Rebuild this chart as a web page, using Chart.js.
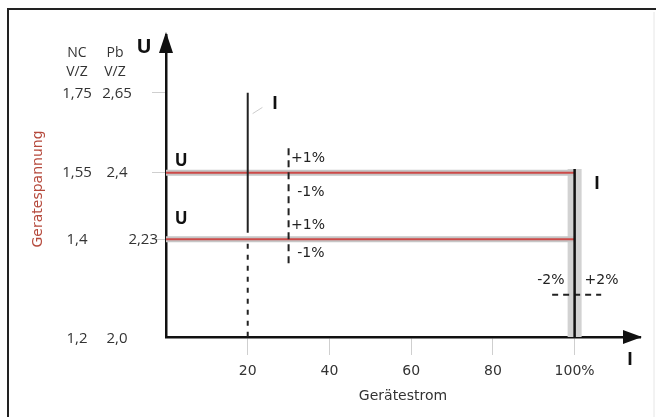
<!DOCTYPE html>
<html>
<head>
<meta charset="utf-8">
<script src="https://cdn.jsdelivr.net/npm/chart.js@4.4.1/dist/chart.umd.min.js"></script>
<style>
  html, body { margin: 0; padding: 0; background: #fff; }
</style>
</head>
<body>
<canvas id="chart" width="656" height="417"></canvas>
<script>
"use strict";

// Gerätestrom in % of rated current
const currentTicks = [20, 40, 60, 80, 100];
// voltage levels per cell (NC and Pb columns)
const ncLevels = [1.2, 1.4, 1.55, 1.75];
const ncLabels = ["1,2", "1,4", "1,55", "1,75"];
const pbLabels = ["2,0", "2,23", "2,4", "2,65"];

// characteristic lines (x = current %, y = NC V/Z)
const upperU = [{ x: 0, y: 1.55 }, { x: 100, y: 1.55 }];
const lowerU = [{ x: 0, y: 1.4 }, { x: 100, y: 1.4 }];
const ratedI = [{ x: 100, y: 1.558 }, { x: 100, y: 1.18 }];
const startSolid = [{ x: 20, y: 1.73 }, { x: 20, y: 1.415 }];
const startDashed = [{ x: 20, y: 1.39 }, { x: 20, y: 1.18 }];
const tolU = [{ x: 30, y: 1.605 }, { x: 30, y: 1.34 }];
const tolI = [{ x: 94.5, y: 1.275 }, { x: 106.5, y: 1.275 }];

const FONT = "'Open Sans', 'Noto Sans', sans-serif";
const WIDE = "'DejaVu Sans', sans-serif";
const INK = "#333";

function line(data, color, width, order, dash) {
  return {
    data: data,
    borderColor: color,
    borderWidth: width,
    borderDash: dash || [],
    pointRadius: 0,
    fill: false,
    order: order,
    borderCapStyle: "butt"
  };
}

const sketch = {
  id: "sketch",
  afterDraw(chart) {
    const ctx = chart.ctx;
    const xs = chart.scales.x;
    const ys = chart.scales.y;
    const area = chart.chartArea;
    const px = v => xs.getPixelForValue(v);
    const py = v => ys.getPixelForValue(v);

    ctx.save();

    // frame
    ctx.strokeStyle = "#222";
    ctx.lineWidth = 2;
    ctx.beginPath();
    ctx.moveTo(8, 417);
    ctx.lineTo(8, 9);
    ctx.lineTo(656, 9);
    ctx.stroke();
    ctx.strokeStyle = "#e6e6e6";
    ctx.lineWidth = 1;
    ctx.beginPath();
    ctx.moveTo(654, 12);
    ctx.lineTo(654, 417);
    ctx.stroke();

    // arrows
    ctx.fillStyle = "#111";
    ctx.beginPath();
    ctx.moveTo(area.left, area.top - 3);
    ctx.lineTo(area.left - 7, area.top + 18);
    ctx.lineTo(area.left + 7, area.top + 18);
    ctx.closePath();
    ctx.fill();
    ctx.beginPath();
    ctx.moveTo(area.right + 2, area.bottom);
    ctx.lineTo(area.right - 17, area.bottom - 7);
    ctx.lineTo(area.right - 17, area.bottom + 7);
    ctx.closePath();
    ctx.fill();

    // column headers
    ctx.fillStyle = INK;
    ctx.textAlign = "center";
    ctx.textBaseline = "middle";
    ctx.font = "14px " + FONT;
    ctx.fillText("NC", 77, 53);
    ctx.fillText("Pb", 115, 53);
    ctx.fillText("V/Z", 77, 72);
    ctx.fillText("V/Z", 115, 72);

    // level labels
    ctx.font = "15px " + FONT;
    ncLevels.forEach((v, i) => {
      let y = py(v);
      if (i === 0) y = area.bottom + 2;
      if (i === ncLevels.length - 1) y += 10;
      ctx.textAlign = "center";
      ctx.fillText(ncLabels[i], 77, y);
      if (i === 1) {
        ctx.textAlign = "right";
        ctx.fillText(pbLabels[i], area.left - 8, y);
      } else {
        ctx.textAlign = "center";
        ctx.fillText(pbLabels[i], 117, y);
      }
    });

    // y title
    ctx.save();
    ctx.translate(38, 189);
    ctx.rotate(-Math.PI / 2);
    ctx.fillStyle = "#b5493c";
    ctx.font = "14px " + WIDE;
    ctx.textAlign = "center";
    ctx.fillText("Geratespannung", 0, 0);
    ctx.restore();

    // bold symbols
    ctx.fillStyle = "#111";
    ctx.textAlign = "center";
    ctx.font = "bold 20px " + FONT;
    ctx.fillText("U", area.left - 22, 47);
    ctx.font = "bold 17px " + FONT;
    ctx.fillText("U", px(3.7), py(1.575));
    ctx.fillText("U", px(3.7), py(1.445));
    ctx.font = "bold 18px " + FONT;
    ctx.fillText("I", px(26.7), py(1.705));
    ctx.fillText("I", px(105.5), py(1.525));
    ctx.fillText("I", area.right - 10, area.bottom + 23);

    // faint leader to upper I
    ctx.strokeStyle = "#ccc";
    ctx.lineWidth = 1;
    ctx.beginPath();
    ctx.moveTo(px(21.2), py(1.683));
    ctx.lineTo(px(23.6), py(1.697));
    ctx.stroke();

    // tolerance labels
    ctx.fillStyle = "#222";
    ctx.font = "14px " + WIDE;
    ctx.textAlign = "left";
    ctx.fillText("+1%", px(30.6), py(1.5815));
    ctx.fillText("-1%", px(32.1), py(1.505));
    ctx.fillText("+1%", px(30.6), py(1.4315));
    ctx.fillText("-1%", px(32.1), py(1.3685));
    ctx.textAlign = "center";
    ctx.fillText("-2%", px(94.2), py(1.3077));
    ctx.fillText("+2%", px(106.6), py(1.3077));

    ctx.restore();
  }
};

new Chart(document.getElementById("chart"), {
  type: "line",
  data: {
    datasets: [
      line(ratedI, "#d2d2d2", 14, 10),
      line(upperU, "#c6c6c6", 6, 9),
      line(lowerU, "#c6c6c6", 6, 9),
      line(upperU, "#cc4a48", 2, 8),
      line(lowerU, "#cc4a48", 2, 8),
      line(ratedI, "#111", 2.5, 1),
      line(startSolid, "#222", 2, 2),
      line(startDashed, "#222", 2, 2, [5, 6]),
      line(tolU, "#222", 2, 2, [7, 5]),
      line(tolI, "#222", 2, 2, [6, 5])
    ]
  },
  options: {
    responsive: false,
    animation: false,
    layout: { padding: { left: 8, top: 35, right: 16, bottom: 0 } },
    plugins: { legend: { display: false }, tooltip: { enabled: false } },
    scales: {
      x: {
        type: "linear",
        min: 0,
        max: 116,
        afterBuildTicks: s => { s.ticks = currentTicks.map(v => ({ value: v })); },
        afterFit: s => { s.height = 80; },
        border: { color: "#111", width: 2.5 },
        grid: { drawOnChartArea: false, tickLength: 18, color: "#cfcfcf", lineWidth: 1 },
        ticks: {
          padding: 8,
          color: INK,
          font: { family: WIDE, size: 14 },
          callback: v => (v === 100 ? "100%" : String(v))
        },
        title: {
          display: true,
          text: "Gerätestrom",
          color: INK,
          font: { family: WIDE, size: 14 },
          padding: { top: 0, bottom: 12 }
        }
      },
      y: {
        type: "linear",
        min: 1.18,
        max: 1.86,
        afterBuildTicks: s => { s.ticks = [1.4, 1.55, 1.73].map(v => ({ value: v })); },
        afterFit: s => { s.width = 158; },
        border: { color: "#111", width: 2.5 },
        grid: { drawOnChartArea: false, tickLength: 14, color: "#cfcfcf", lineWidth: 1 },
        ticks: { display: false }
      }
    }
  },
  plugins: [sketch]
});
</script>
</body>
</html>
